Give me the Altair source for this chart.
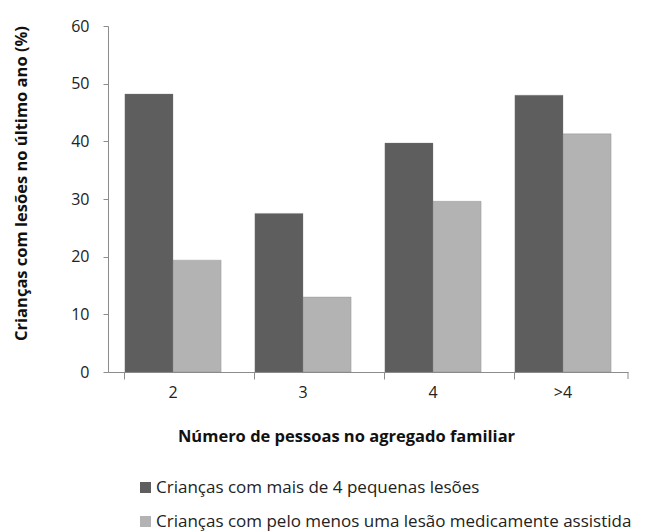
import altair as alt
import pandas as pd

categories = ["2", "3", "4", ">4"]
series_names = ["Crianças com mais de 4 pequenas lesões",
                "Crianças com pelo menos uma lesão medicamente assistida"]
series_a = [48.2, 27.5, 39.7, 48.0]
series_b = [19.4, 13.0, 29.6, 41.3]

rows = []
for c, a, b in zip(categories, series_a, series_b):
    rows.append({"cat": c, "serie": series_names[0], "valor": a})
    rows.append({"cat": c, "serie": series_names[1], "valor": b})
df = pd.DataFrame(rows)

FONT = "Open Sans"
AXIS_COLOR = "#8c8c8c"

bars = alt.Chart(df).mark_bar(stroke="#7a7a7a", strokeWidth=0.6, strokeOpacity=0.5).encode(
    x=alt.X("cat:N", sort=categories,
            scale=alt.Scale(paddingInner=0.26, paddingOuter=0.13),
            axis=alt.Axis(title="Número de pessoas no agregado familiar",
                          labelAngle=0, bandPosition=0, tickSize=7,
                          labelPadding=5, labelFontSize=16, labelColor="#222",
                          titleFontSize=16.5, titleFontWeight="bold", titleColor="#111",
                          titlePadding=28, titleX=238, titleAlign="center",
                          domainColor=AXIS_COLOR, tickColor=AXIS_COLOR, grid=False)),
    xOffset=alt.XOffset("serie:N", sort=series_names, scale=alt.Scale(paddingInner=0, paddingOuter=0)),
    y=alt.Y("valor:Q", scale=alt.Scale(domain=[0, 60], nice=False),
            axis=alt.Axis(title="Crianças com lesões no último ano (%)",
                          values=[0, 10, 20, 30, 40, 50, 60], tickSize=5,
                          labelPadding=14, labelFontSize=16, labelColor="#222",
                          titleFontSize=16.5, titleFontWeight="bold", titleColor="#111",
                          titleX=-87, titleY=157, titleAlign="center", titleBaseline="middle",
                          titleAngle=-90,
                          domainColor=AXIS_COLOR, tickColor=AXIS_COLOR, grid=False)),
    color=alt.Color("serie:N", sort=series_names,
                    scale=alt.Scale(domain=series_names, range=["#5e5e5e", "#b3b3b3"]),
                    legend=alt.Legend(title=None, orient="none", legendX=29, legendY=453,
                                      symbolType="square", symbolSize=121,
                                      symbolStrokeWidth=0, labelFontSize=17,
                                      labelColor="#222", labelOffset=2,
                                      rowPadding=16, labelLimit=600)),
)

end_tick = alt.Chart(pd.DataFrame({"k": [0]})).mark_rule(color=AXIS_COLOR).encode(
    x=alt.value(520), y=alt.value(346), y2=alt.value(353)
)

chart = alt.layer(bars, end_tick).properties(
    width=520, height=346,
    autosize=alt.AutoSizeParams(type="none"),
    padding={"left": 100, "top": 18, "right": 13, "bottom": 160},
).configure(font=FONT).configure_view(stroke=None)

chart.save("out.html", embed_options={"renderer": "svg", "actions": False})
